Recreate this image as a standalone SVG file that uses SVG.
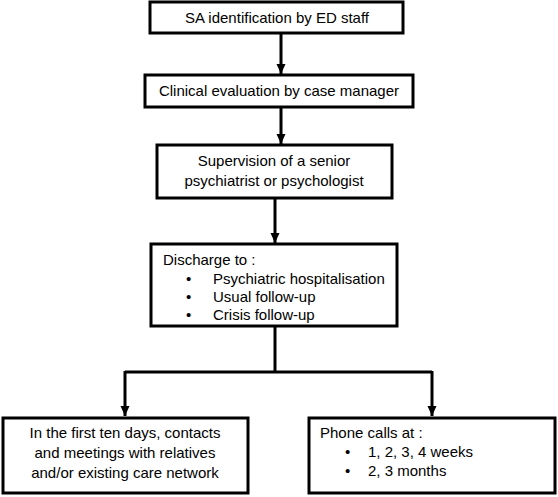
<svg xmlns="http://www.w3.org/2000/svg" width="558" height="497" viewBox="0 0 558 497">
<style>
.box{fill:#fff;stroke:#000;stroke-width:3}
.t{font-family:"Liberation Sans",Arial,sans-serif;font-size:15px;fill:#000}
.c{text-anchor:middle}
.ln{fill:none;stroke:#000;stroke-width:3}
</style>
<defs>
<marker id="ah" markerWidth="10" markerHeight="10" viewBox="0 0 10 10" refX="10" refY="5" orient="auto" markerUnits="userSpaceOnUse">
<path d="M0,0.5 L10,5 L0,9.5 Z" fill="#000"/>
</marker>
</defs>
<rect width="558" height="497" fill="#fff"/>
<g id="connectors">
<line class="ln" x1="281" y1="33" x2="281" y2="74" marker-end="url(#ah)"/>
<line class="ln" x1="281" y1="107" x2="281" y2="144" marker-end="url(#ah)"/>
<line class="ln" x1="275" y1="198" x2="275" y2="243" marker-end="url(#ah)"/>
<line class="ln" x1="275" y1="326" x2="275" y2="372"/>
<polyline class="ln" points="125,372 432,372"/>
<line class="ln" x1="125" y1="371" x2="125" y2="416" marker-end="url(#ah)"/>
<line class="ln" x1="432" y1="371" x2="432" y2="416" marker-end="url(#ah)"/>
</g>
<g id="n1">
<rect class="box" x="150" y="2" width="253" height="31"/>
<text class="t c" x="277" y="23">SA identification by ED staff</text>
</g>
<g id="n2">
<rect class="box" x="145" y="75" width="268" height="32"/>
<text class="t c" x="279" y="96">Clinical evaluation by case manager</text>
</g>
<g id="n3">
<rect class="box" x="157" y="145" width="235" height="53"/>
<text class="t c" x="274" y="166">Supervision of a senior</text>
<text class="t c" x="274" y="186">psychiatrist or psychologist</text>
</g>
<g id="n4">
<rect class="box" x="151" y="244" width="246" height="82"/>
<text class="t" x="163" y="265">Discharge to :</text>
<text class="t" x="186" y="284">•</text>
<text class="t" x="213" y="284">Psychiatric hospitalisation</text>
<text class="t" x="186" y="302">•</text>
<text class="t" x="213" y="302">Usual follow-up</text>
<text class="t" x="186" y="320">•</text>
<text class="t" x="213" y="320">Crisis follow-up</text>
</g>
<g id="n5">
<rect class="box" x="3" y="418" width="245" height="75"/>
<text class="t c" x="125" y="438">In the first ten days, contacts</text>
<text class="t c" x="125" y="458">and meetings with relatives</text>
<text class="t c" x="125" y="478">and/or existing care network</text>
</g>
<g id="n6">
<rect class="box" x="309" y="418" width="246" height="75"/>
<text class="t" x="320" y="438">Phone calls at :</text>
<text class="t" x="345" y="457">•</text>
<text class="t" x="368" y="457">1, 2, 3, 4 weeks</text>
<text class="t" x="345" y="476">•</text>
<text class="t" x="368" y="476">2, 3 months</text>
</g>
</svg>
